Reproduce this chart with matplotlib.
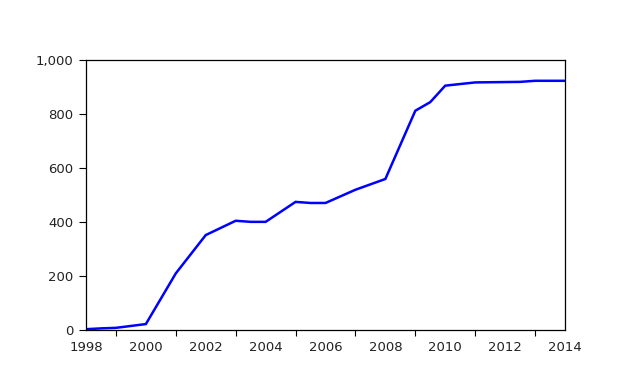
import matplotlib
matplotlib.use("Agg")
import matplotlib.pyplot as plt
from matplotlib.ticker import FuncFormatter, MultipleLocator

years = [1998.0, 1998.5, 1999.0, 1999.5, 2000.0, 2001.0, 2002.0, 2003.0, 2003.5,
         2004.0, 2005.0, 2005.5, 2006.0, 2007.0, 2008.0, 2009.0, 2009.5, 2010.0,
         2010.5, 2011.0, 2012.5, 2013.0, 2014.0]
values = [3, 6, 8, 15, 22, 210, 352, 405, 401,
          401, 475, 471, 471, 520, 560, 813, 845, 906,
          912, 918, 920, 924, 924]
x_ticks = [1998, 2000, 2002, 2004, 2006, 2008, 2010, 2012, 2014]
y_ticks = [0, 200, 400, 600, 800, 1000]

fig = plt.figure(figsize=(6.17, 3.75), dpi=100)
ax = fig.add_axes([86/617, 45/375, (565-86)/617, (330-60.3)/375])
ax.plot(years, values, color=(0, 0, 1), linewidth=1.8, solid_joinstyle="miter")
ax.set_xlim(1998, 2014)
ax.set_ylim(0, 1000)
ax.set_xticks(x_ticks)
ax.set_xticklabels([str(t) for t in x_ticks])
ax.xaxis.set_minor_locator(MultipleLocator(1))
ax.set_yticks(y_ticks)
ax.yaxis.set_major_formatter(FuncFormatter(lambda v, p: f"{int(v):,}"))
ax.tick_params(axis="x", which="major", length=0, pad=8, labelsize=9.5, colors="black")
ax.tick_params(axis="x", which="minor", length=4, width=0.8, direction="out")
ax.tick_params(axis="y", which="major", length=5, width=0.8, direction="out", pad=4, labelsize=9.5)
for s in ax.spines.values():
    s.set_linewidth(0.9)
    s.set_color("black")
for lab in ax.get_xticklabels() + ax.get_yticklabels():
    lab.set_color("#222222")
fig.savefig("out.png", dpi=100)
